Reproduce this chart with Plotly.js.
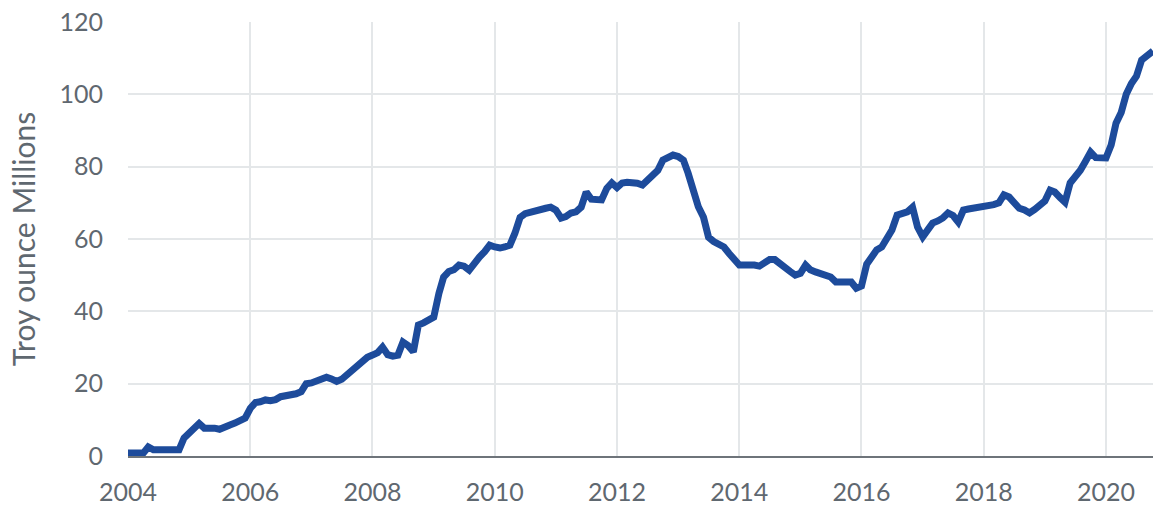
<!DOCTYPE html>
<html>
<head>
<meta charset="utf-8">
<script src="https://cdn.plot.ly/plotly-3.0.1.min.js"></script>
<style>html,body{margin:0;padding:0;background:#fff;}#chart{width:1153px;height:507px;}</style>
</head>
<body>
<div id="chart"></div>
<script>
// Monthly holdings, troy ounces (millions)
const years = [2004,2005,2006,2007,2008,2009,2010,2011,2012,2013,2014,2015,2016,2017,2018,2019,2020];
const v2004 = [0.8,0.8,0.8,0.8,2.5,1.7,1.7,1.7,1.7,1.7,1.7,5.0];
const v2005 = [6.5,8.1,9.0,7.7,7.9,7.7,7.4,8.2,8.6,9.1,9.8,10.5];
const v2006 = [13.2,14.8,15.0,15.5,15.3,15.6,16.4,16.6,16.6,17.2,17.8,20.0];
const v2007 = [20.2,20.8,21.2,21.8,21.3,20.6,21.2,22.5,23.5,25.0,26.2,27.3];
const v2008 = [27.9,28.6,30.1,28.0,27.6,27.9,31.5,30.5,28.8,36.2,36.8,37.5];
const v2009 = [38.4,45.0,49.5,51.0,51.5,52.8,52.5,51.4,53.5,55.0,56.5,58.3];
const v2010 = [57.8,57.5,57.8,58.3,61.6,66.0,67.0,67.5,67.8,68.2,68.5,68.8];
const v2011 = [68.0,65.8,66.2,67.2,67.5,68.8,73.0,71.0,70.8,70.8,74.0,75.5];
const v2012 = [74.2,75.5,75.7,75.6,75.4,74.9,76.3,77.5,79.0,81.8,82.3,83.2];
const v2013 = [82.8,81.8,78.2,73.5,68.9,66.0,60.5,59.3,58.5,57.8,56.0,54.2];
const v2014 = [52.8,52.8,53.0,52.8,52.5,53.5,54.3,54.3,53.0,52.0,51.0,50.0];
const v2015 = [50.5,52.8,51.5,50.9,50.5,50.0,49.5,48.1,48.1,48.1,48.1,46.4];
const v2016 = [47.0,53.0,55.0,57.0,57.8,60.0,62.5,66.6,67.0,67.5,68.8,63.3];
const v2017 = [60.6,63.0,64.4,65.0,65.8,67.2,66.5,64.7,68.0,68.3,68.5,68.8];
const v2018 = [68.8,69.2,69.5,70.0,72.2,71.6,69.8,68.5,68.0,67.2,68.2,69.4];
const v2019 = [70.5,73.5,73.0,71.5,70.2,75.5,77.0,79.0,81.5,84.0,82.5,82.4];
const v2020 = [82.4,86.0,92.0,95.0,100.0,103.0,105.0,109.5,110.5,112.0];
const yearValues = [v2004,v2005,v2006,v2007,v2008,v2009,v2010,v2011,v2012,v2013,v2014,v2015,v2016,v2017,v2018,v2019,v2020];
const yTickVals = [0,20,40,60,80,100,120];
const yTitle = 'Troy ounce Millions';

const xs = [], ys = [];
years.forEach((yr, i) => {
  yearValues[i].forEach((v, m) => {
    xs.push(yr + '-' + String(m + 1).padStart(2, '0') + '-01');
    ys.push(v);
  });
});
xs[xs.length - 1] = '2020-10-08';

const trace = {
  x: xs, y: ys, type: 'scatter', mode: 'lines',
  line: {color: '#1d4b9b', width: 7},
  hoverinfo: 'skip'
};

const layout = {
  width: 1153, height: 507,
  margin: {l: 128, r: 0, t: 22, b: 51},
  paper_bgcolor: '#ffffff', plot_bgcolor: '#ffffff',
  font: {family: 'Lato, "Open Sans", sans-serif', color: '#5f6870', size: 25},
  showlegend: false,
  xaxis: {
    type: 'date',
    range: ['2004-01-01', '2020-10-08'],
    tick0: '2004-01-01', dtick: 'M24', tickformat: '%Y',
    showgrid: true, gridcolor: '#e4e7e9', gridwidth: 2,
    showline: true, linecolor: '#6e747a', linewidth: 2,
    ticks: '', ticklabelstandoff: 13,
    zeroline: false, fixedrange: true
  },
  yaxis: {
    range: [0, 120], tickvals: yTickVals,
    showgrid: true, gridcolor: '#e4e7e9', gridwidth: 2,
    zeroline: false, showline: false,
    ticks: '', ticklabelstandoff: 24,
    title: {text: yTitle, font: {size: 30, color: '#5f6870'}, standoff: 14},
    fixedrange: true
  }
};

Plotly.newPlot('chart', [trace], layout, {displayModeBar: false, staticPlot: true});
</script>
</body>
</html>
